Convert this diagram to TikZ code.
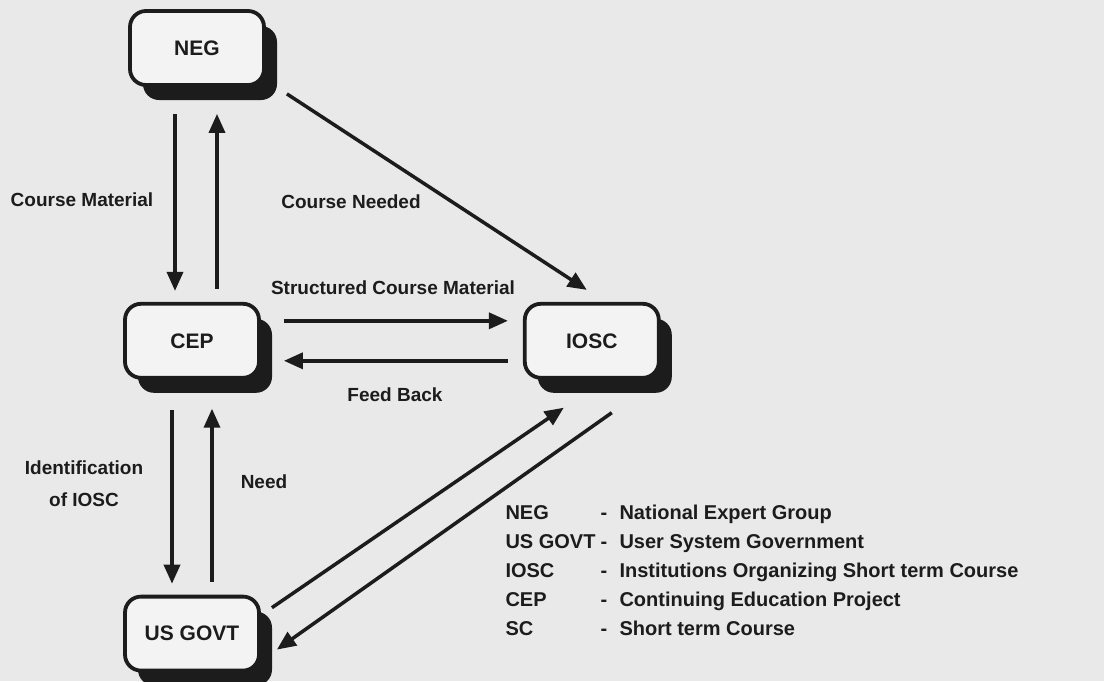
\documentclass[tikz,border=0pt]{standalone}
\usepackage{fontspec}
\setmainfont{Liberation Sans}
\usepackage{tikz}
\usetikzlibrary{arrows.meta,positioning,shadows}

\definecolor{paper}{RGB}{233,233,233}
\definecolor{boxfill}{RGB}{243,243,243}
\definecolor{ink}{RGB}{28,28,28}

\begin{document}
\begin{tikzpicture}[
   x=1pt, y=-1pt,
   node distance=215pt and 262pt,
   unit/.style={rectangle, rounded corners=16pt, draw=ink, line width=3.8pt,
                fill=boxfill, minimum width=134pt, minimum height=74pt,
                font=\fontsize{21}{25}\selectfont\bfseries, text=ink,
                drop shadow={shadow xshift=13pt, shadow yshift=-15pt,
                             fill=ink, opacity=1}},
   lbl/.style={font=\fontsize{19}{32}\selectfont\bfseries, text=ink, align=center},
   legend/.style={font=\fontsize{20}{24}\selectfont\bfseries, text=ink,
                  anchor=west, text height=15pt, text depth=4pt},
   arr/.style={-{Triangle[length=19pt,width=16pt]}, line width=3.5pt, draw=ink}
]
\fill[paper] (0,0) rectangle (1104,681);
\useasboundingbox (0,0) rectangle (1104,681);

% Units
\node[unit] (neg) at (197,48) {NEG};
\node[unit, below=of neg, xshift=-5pt] (cep) {CEP};
\node[unit, right=of cep] (iosc) {IOSC};
\node[unit, below=of cep] (usgovt) {US GOVT};

% NEG <-> CEP
\draw[arr] ([xshift=-22pt, yshift=-27pt]neg.south) -- ([xshift=-17pt, yshift=11pt]cep.north);
\draw[arr] ([xshift=25pt, yshift=13pt]cep.north) -- ([xshift=20pt, yshift=-27pt]neg.south);
% CEP <-> US GOVT
\draw[arr] ([xshift=-20pt, yshift=-30pt]cep.south) -- ([xshift=-20pt, yshift=11pt]usgovt.north);
\draw[arr] ([xshift=20pt, yshift=13pt]usgovt.north) -- ([xshift=20pt, yshift=-29pt]cep.south);
% CEP <-> IOSC
\draw[arr] ([xshift=23pt, yshift=20pt]cep.east) -- ([xshift=-15pt, yshift=20pt]iosc.west);
\draw[arr] ([xshift=-15pt, yshift=-20pt]iosc.west) -- ([xshift=23pt, yshift=-20pt]cep.east);
% diagonals
\draw[arr] ([xshift=21pt, yshift=-7pt]neg.south east) -- ([xshift=-5pt, yshift=12pt]iosc.north);
\draw[arr] ([xshift=11pt, yshift=-13pt]usgovt.north east) -- ([xshift=-28pt, yshift=-28pt]iosc.south);
\draw[arr] ([xshift=20pt, yshift=-33pt]iosc.south) -- ([xshift=16pt, yshift=-16pt]usgovt.east);

% Labels
\node[lbl] (lcm) at (82,200) {Course Material};
\node[lbl] (lcn) at (351,202) {Course Needed};
\node[lbl] (lscm) at (393,288) {Structured Course Material};
\node[lbl] (lfb) at (395,395) {Feed Back};
\node[lbl] (lid) at (84,484) {Identification\\of IOSC};
\node[lbl] (lneed) at (264,482) {Need};

% Legend
\foreach \abbr/\full [count=\i] in {NEG/National Expert Group,
    US GOVT/User System Government,
    IOSC/Institutions Organizing Short term Course,
    CEP/Continuing Education Project,
    SC/Short term Course}{
  \node[legend] (abbr\i) at (502,485+29*\i) {\abbr};
  \node[legend] (dash\i) at (597,485+29*\i) {-};
  \node[legend] (full\i) at (616,485+29*\i) {\full};
}
\end{tikzpicture}
\end{document}
